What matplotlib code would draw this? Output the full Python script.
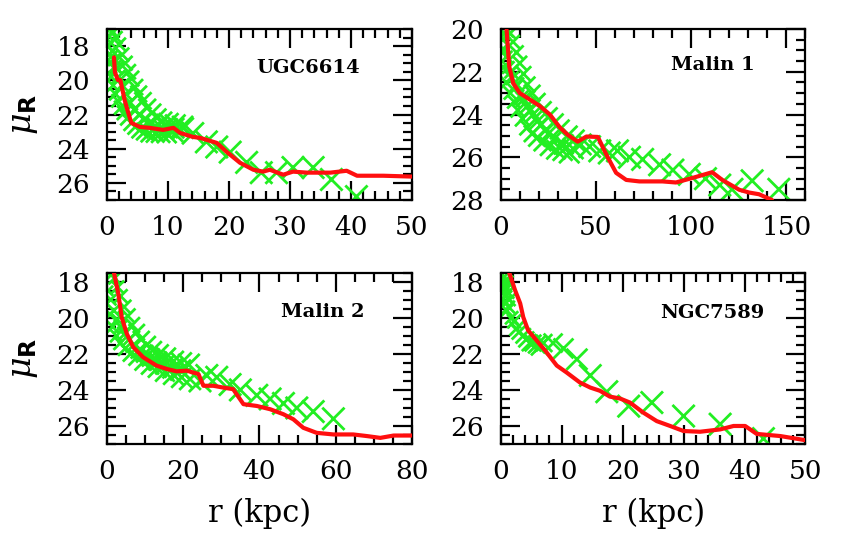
import numpy as np
import matplotlib
matplotlib.use("Agg")
import matplotlib.pyplot as plt
from matplotlib.ticker import MultipleLocator

# --- data (r in kpc, mu_R in mag/arcsec^2) ---
# UGC6614
ugc_r = [0.5, 1.0, 1.5, 2.0, 2.5, 3.0, 3.5, 4.0, 4.6, 5.2, 5.9, 6.6, 7.4, 8.2, 9.1, 10.1, 11.2, 12.4,
         0.2, 0.4, 0.7, 1.0, 1.4, 1.8, 2.3, 2.8, 3.4, 4.0, 4.7, 5.4, 6.2, 7.0, 7.9, 8.8, 9.8, 10.8,
         0.3, 0.6, 0.9, 1.2, 1.6,
         0.8, 1.3, 1.9, 2.5, 3.1, 3.8, 4.5, 5.3, 6.1, 7.0, 8.0, 9.0, 10.0, 11.0,
         12.5, 14.1, 16.3, 18.0, 20.2, 22.9, 25.3, 27.8, 30.5, 33.8, 36.8, 40.9]
ugc_mu = [17.0, 17.2, 17.5, 17.9, 18.5, 19.0, 19.5, 19.9, 20.4, 20.8, 21.2, 21.6, 21.9, 22.2, 22.4, 22.5, 22.6, 22.7,
          18.0, 19.0, 19.8, 20.3, 20.8, 21.2, 21.6, 21.9, 22.2, 22.5, 22.7, 22.9, 23.0, 23.1, 23.1, 23.1, 23.1, 23.0,
          17.4, 17.8, 18.3, 18.8, 19.3,
          18.6, 19.2, 19.8, 20.3, 20.8, 21.3, 21.7, 22.0, 22.3, 22.5, 22.7, 22.8, 22.8, 22.8,
          22.8, 23.1, 23.6, 23.9, 24.2, 24.8, 25.4, 25.4, 25.1, 25.1, 25.8, 26.8]
ugc_model_r = [1.15, 1.3, 1.8, 2.2, 2.9, 3.5, 4.0, 5.4, 7.0, 9.2, 10.9, 12.0, 14.1, 15.3, 18.0, 19.6,
               21.8, 24.0, 25.6, 26.7, 28.9, 30.5, 32.8, 36.6, 39.3, 41.0, 45.3, 50.0]
ugc_model_mu = [18.66, 19.53, 19.99, 19.99, 21.16, 21.91, 22.49, 22.73, 22.78, 22.9, 22.78, 23.08, 23.31, 23.37,
                23.66, 24.18, 24.82, 25.23, 25.34, 25.23, 25.52, 25.34, 25.4, 25.4, 25.29, 25.58, 25.58, 25.63]

# Malin 1
m1_r = [2.0, 3.5, 5.0, 6.5, 8.3, 10.0, 12.0, 14.0, 16.5, 19.0, 22.0, 25.0, 28.0, 31.0, 35.0, 38.5, 42.0,
        0.5, 1.5, 3.0, 5.0, 7.0, 9.0, 11.5, 14.0, 16.5, 19.0, 22.0, 25.5, 29.0, 32.5, 36.0,
        2.0, 4.0, 6.0, 8.0, 11.0, 14.0, 17.0, 21.0, 25.0,
        1.0, 3.0, 5.5, 8.5, 12.0, 15.5, 19.5, 24.0, 28.5, 33.0, 38.0,
        46.7, 52.0, 57.0, 61.3, 67.6, 74.5, 83.4, 90.4, 99.0, 107.5, 115.0, 121.4, 132.0, 146.0]
m1_mu = [20.2, 20.1, 20.2, 20.6, 21.1, 21.6, 22.1, 22.6, 23.0, 23.4, 23.8, 24.1, 24.4, 24.7, 25.0, 25.2, 25.4,
         21.0, 21.8, 22.5, 23.0, 23.4, 23.8, 24.2, 24.6, 24.9, 25.1, 25.3, 25.5, 25.65, 25.7, 25.8,
         21.0, 21.8, 22.3, 22.7, 23.2, 23.6, 24.0, 24.5, 24.9,
         20.5, 21.3, 22.0, 22.6, 23.3, 23.8, 24.3, 24.7, 25.1, 25.4, 25.6,
         25.5, 25.7, 25.8, 25.7, 26.0, 26.1, 26.35, 26.6, 26.8, 27.0, 27.3, 27.5, 27.1, 27.5]
m1_model_r = [3.1, 4.5, 6.6, 10.0, 15.3, 20.5, 25.8, 31.0, 35.2, 40.4, 45.0, 51.0, 56.0, 60.6, 65.9,
              72.8, 84.9, 92.0, 100.6, 111.0, 116.3, 125.2, 130.4, 135.6, 142.4]
m1_model_mu = [20.05, 21.76, 22.54, 23.0, 23.3, 23.6, 24.0, 24.6, 24.95, 25.27, 25.03, 25.05, 25.97, 26.73, 27.06,
               27.13, 27.13, 27.18, 26.97, 26.7, 27.06, 27.52, 27.65, 27.73, 28.0]

# Malin 2
m2_r = [0.5, 1.2, 2.0, 2.8, 3.6, 4.5, 5.5, 6.6, 7.8, 9.0, 10.5, 12.0, 13.7, 15.5, 17.5, 19.5, 21.5,
        0.3, 0.8, 1.5, 2.5, 3.5, 4.8, 6.2, 7.8, 9.5, 11.3, 13.2, 15.2, 17.4, 19.6, 21.8,
        1.0, 1.8, 2.7, 3.6, 4.6, 5.8, 7.0, 8.4, 9.9, 11.5, 13.3, 15.2, 17.2, 19.3,
        24.4, 26.2, 28.8, 32.3, 35.0, 39.3, 42.8, 46.3, 49.8, 54.1, 59.4]
m2_mu = [17.5, 17.6, 17.8, 18.3, 18.8, 19.4, 19.9, 20.4, 20.8, 21.2, 21.5, 21.8, 22.0, 22.2, 22.4, 22.5, 22.6,
         18.5, 19.8, 20.5, 21.0, 21.4, 21.7, 22.0, 22.2, 22.45, 22.65, 22.8, 23.0, 23.15, 23.3, 23.4,
         19.0, 19.6, 20.1, 20.5, 20.9, 21.2, 21.5, 21.8, 22.0, 22.2, 22.4, 22.6, 22.8, 22.9,
         23.5, 23.2, 23.3, 23.7, 24.0, 24.3, 24.5, 24.75, 25.0, 25.2, 25.6]
m2_model_r = [1.84, 2.97, 3.85, 5.2, 6.9, 9.5, 13.0, 15.7, 18.3, 20.9, 24.0, 25.3, 27.9, 30.5, 33.1, 35.8,
              39.3, 42.8, 46.3, 48.9, 51.5, 55.0, 59.4, 64.6, 68.2, 71.7, 75.2, 80.0]
m2_model_mu = [17.5, 18.65, 19.96, 20.88, 21.63, 22.19, 22.65, 22.84, 22.97, 22.93, 23.12, 23.77, 23.77, 23.87,
               23.96, 24.79, 24.89, 25.07, 25.35, 25.63, 26.1, 26.38, 26.47, 26.47, 26.56, 26.66, 26.53, 26.53]

# NGC7589
n_r = [0.2, 0.3, 0.4, 0.5, 0.6, 0.7, 0.8, 0.9, 1.0, 1.1, 1.2, 1.4,
       1.3, 2.2, 3.0, 4.2, 5.3, 6.4,
       1.8, 2.6, 3.7, 4.8, 5.9, 7.0, 8.6, 10.3, 12.5, 14.7, 17.4, 21.0, 24.8, 30.0, 36.0, 43.1]
n_mu = [17.6, 18.2, 17.8, 18.6, 18.0, 19.1, 18.3, 18.8, 19.6, 18.0, 18.6, 19.0,
        19.4, 20.2, 20.8, 21.2, 21.4, 21.6,
        20.0, 20.6, 21.0, 21.4, 21.5, 21.4, 21.4, 21.7, 22.3, 23.2, 24.1, 24.9, 24.7, 25.45, 25.9, 26.7]
n_model_r = [1.4, 2.35, 3.2, 3.7, 4.5, 5.9, 7.3, 9.2, 10.8, 13.0, 14.7, 16.3, 17.9, 19.6, 21.2, 23.4,
             25.6, 27.8, 30.0, 32.7, 36.0, 38.2, 40.1, 42.0, 45.9, 50.0]
n_model_mu = [17.5, 18.46, 19.2, 19.96, 20.7, 21.26, 21.82, 22.65, 23.03, 23.59, 23.87, 24.05, 24.37, 24.48,
              24.7, 25.26, 25.73, 26.0, 26.28, 26.32, 26.19, 26.0, 26.0, 26.44, 26.56, 26.79]

PANELS = [
    # name, obs r, obs mu, model r, model mu, xlim, ylim, x major, x minor, axes rect, label pos
    ("UGC6614", ugc_r, ugc_mu, ugc_model_r, ugc_model_mu, (0, 50), (27, 17), 10, 2,
     [0.1251, 0.633, 0.3567, 0.3138], (0.83, 0.77)),
    ("Malin 1", m1_r, m1_mu, m1_model_r, m1_model_mu, (0, 160), (28, 20), 50, 10,
     [0.5856, 0.633, 0.3565, 0.3138], (0.835, 0.79)),
    ("Malin 2", m2_r, m2_mu, m2_model_r, m2_model_mu, (0, 80), (27, 17.5), 20, 5,
     [0.1251, 0.1853, 0.3567, 0.3143], (0.843, 0.77)),
    ("NGC7589", n_r, n_mu, n_model_r, n_model_mu, (0, 50), (27, 17.5), 10, 2,
     [0.5856, 0.1853, 0.3565, 0.3143], (0.865, 0.765)),
]

plt.rcParams['font.family'] = 'DejaVu Serif'
plt.rcParams['mathtext.fontset'] = 'custom'
plt.rcParams['mathtext.it'] = 'DejaVu Serif:italic'
plt.rcParams['mathtext.rm'] = 'DejaVu Sans:bold'

GREEN = '#22ee22'
RED = '#ff0f0f'

fig = plt.figure(figsize=(8.55, 5.45), dpi=100)

for i, (name, r, mu, mr, mmu, xlim, ylim, xmaj, xmin, rect, lpos) in enumerate(PANELS):
    ax = fig.add_axes(rect)
    r = np.array(r)
    # crosses get bigger further out
    ms = 6 + 10 * np.sqrt(np.clip(r / (0.3 * xlim[1]), 0, 1))
    ax.scatter(r, mu, s=ms ** 2, marker='x', color=GREEN, linewidths=2.0, zorder=2)
    ax.plot(mr, mmu, color=RED, lw=3.0, zorder=3, solid_capstyle='round')

    ax.set_xlim(*xlim)
    ax.set_ylim(*ylim)
    ax.xaxis.set_major_locator(MultipleLocator(xmaj))
    ax.xaxis.set_minor_locator(MultipleLocator(xmin))
    ax.yaxis.set_major_locator(MultipleLocator(2))
    ax.yaxis.set_minor_locator(MultipleLocator(0.5))
    ax.tick_params(which='both', direction='in', top=True, right=True, width=1.6)
    ax.tick_params(which='major', length=14, labelsize=19)
    ax.tick_params(which='minor', length=6.5)
    ax.tick_params(axis='x', pad=11)
    ax.tick_params(axis='y', pad=12)
    for sp in ax.spines.values():
        sp.set_linewidth(1.6)

    ax.text(lpos[0], lpos[1], name, transform=ax.transAxes, ha='right', va='center',
            fontsize=14, fontweight='bold')

    if i % 2 == 0:
        ax.set_ylabel(r'$\mu_{\rm R}$', fontsize=24, labelpad=12)
    if i >= 2:
        ax.set_xlabel('r (kpc)', fontsize=22, labelpad=10)

fig.savefig('out.png', dpi=100)
